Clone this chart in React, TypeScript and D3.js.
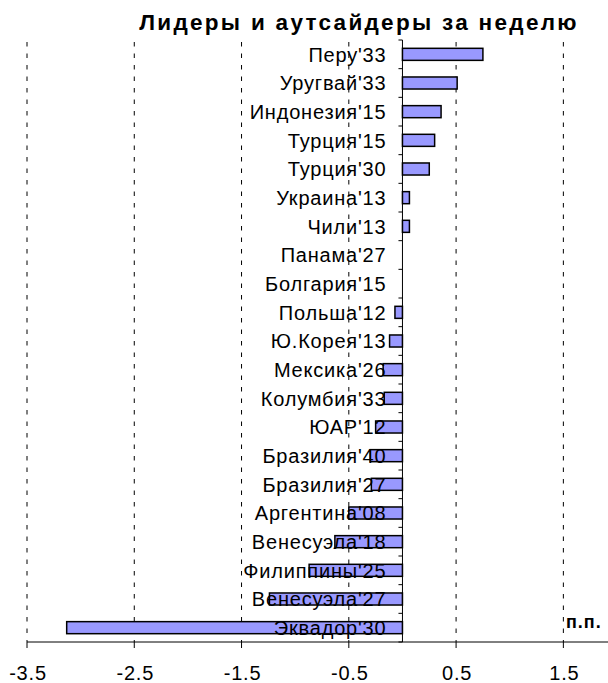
import React, { useRef, useEffect } from "react";
import * as d3 from "d3";

const WIDTH = 608;
const HEIGHT = 683;

const COUNTRIES = [
  "Перу'33",
  "Уругвай'33",
  "Индонезия'15",
  "Турция'15",
  "Турция'30",
  "Украина'13",
  "Чили'13",
  "Панама'27",
  "Болгария'15",
  "Польша'12",
  "Ю.Корея'13",
  "Мексика'26",
  "Колумбия'33",
  "ЮАР'12",
  "Бразилия'40",
  "Бразилия'27",
  "Аргентина'08",
  "Венесуэла'18",
  "Филиппины'25",
  "Венесуэла'27",
  "Эквадор'30",
];

const CHANGES = [
  0.75, 0.51, 0.36, 0.3, 0.25, 0.065, 0.065, 0, 0, -0.07, -0.12, -0.18, -0.17,
  -0.25, -0.3, -0.29, -0.5, -0.63, -0.87, -1.24, -3.13,
];

const X_TICKS = [-3.5, -2.5, -1.5, -0.5, 0.5, 1.5];

const TITLE = "Лидеры и аутсайдеры за неделю";
const UNIT = "п.п.";

const PLOT = { left: 27, right: 617, top: 40, bottom: 642 };
const FONT = "'Liberation Sans', Arial, sans-serif";

export default function App() {
  const svgRef = useRef<SVGSVGElement>(null);

  useEffect(() => {
    const svg = d3.select(svgRef.current);
    svg.selectAll("*").remove();

    const x = d3.scaleLinear().domain([-3.5, 2.0]).range([PLOT.left, PLOT.right]);
    const y = d3
      .scaleBand<string>()
      .domain(COUNTRIES)
      .range([PLOT.top, PLOT.bottom])
      .paddingInner(0.58)
      .paddingOuter(0.29);
    const step = y.step();
    const x0 = x(0);

    // dashed vertical gridlines
    svg
      .append("g")
      .selectAll("line")
      .data(X_TICKS)
      .join("line")
      .attr("x1", (d) => x(d))
      .attr("x2", (d) => x(d))
      .attr("y1", PLOT.top + 2)
      .attr("y2", PLOT.bottom)
      .attr("stroke", "#000")
      .attr("stroke-width", 1)
      .attr("stroke-dasharray", "4.5,7");

    // bars
    svg
      .append("g")
      .selectAll("rect")
      .data(COUNTRIES.map((c, i) => ({ c, v: CHANGES[i] })).filter((d) => d.v !== 0))
      .join("rect")
      .attr("x", (d) => Math.min(x(d.v), x0))
      .attr("y", (d) => y(d.c)!)
      .attr("width", (d) => Math.abs(x(d.v) - x0))
      .attr("height", y.bandwidth())
      .attr("fill", "#9999ff")
      .attr("stroke", "#000")
      .attr("stroke-width", 1.5);

    // category axis at zero
    svg
      .append("line")
      .attr("x1", x0)
      .attr("x2", x0)
      .attr("y1", PLOT.top)
      .attr("y2", PLOT.bottom)
      .attr("stroke", "#000")
      .attr("stroke-width", 1);

    svg
      .append("g")
      .selectAll("line")
      .data(d3.range(COUNTRIES.length + 1))
      .join("line")
      .attr("x1", x0 - 4)
      .attr("x2", x0)
      .attr("y1", (i) => PLOT.top + i * step)
      .attr("y2", (i) => PLOT.top + i * step)
      .attr("stroke", "#000");

    // category labels (over bars)
    svg
      .append("g")
      .selectAll("text")
      .data(COUNTRIES)
      .join("text")
      .attr("x", x0 - 16)
      .attr("y", (d) => y(d)! + y.bandwidth() / 2)
      .attr("dy", "0.36em")
      .attr("text-anchor", "end")
      .attr("font-size", 20)
      .attr("letter-spacing", 0.8)
      .attr("fill", "#000")
      .text((d) => d);

    // x axis
    svg
      .append("line")
      .attr("x1", PLOT.left)
      .attr("x2", WIDTH)
      .attr("y1", PLOT.bottom)
      .attr("y2", PLOT.bottom)
      .attr("stroke", "#000");

    const xt = svg.append("g").selectAll("g").data(X_TICKS).join("g");
    xt.append("line")
      .attr("x1", (d) => x(d))
      .attr("x2", (d) => x(d))
      .attr("y1", PLOT.bottom)
      .attr("y2", PLOT.bottom + 6)
      .attr("stroke", "#000");
    xt.append("text")
      .attr("x", (d) => x(d) + 1)
      .attr("y", 680)
      .attr("text-anchor", "middle")
      .attr("font-size", 20)
      .attr("letter-spacing", 0.8)
      .attr("fill", "#000")
      .text((d) => d.toFixed(1));

    // title
    svg
      .append("text")
      .attr("x", 359)
      .attr("y", 30)
      .attr("text-anchor", "middle")
      .attr("font-size", 22.5)
      .attr("font-weight", "bold")
      .attr("letter-spacing", 2.3)
      .attr("fill", "#000")
      .text(TITLE);

    // unit label
    svg
      .append("text")
      .attr("x", 566)
      .attr("y", 628)
      .attr("font-size", 18)
      .attr("font-weight", "bold")
      .attr("letter-spacing", 1)
      .attr("fill", "#000")
      .text(UNIT);
  }, []);

  return (
    <svg
      ref={svgRef}
      width={WIDTH}
      height={HEIGHT}
      style={{
        position: "absolute",
        left: 0,
        top: 0,
        background: "#fff",
        fontFamily: FONT,
      }}
    />
  );
}
